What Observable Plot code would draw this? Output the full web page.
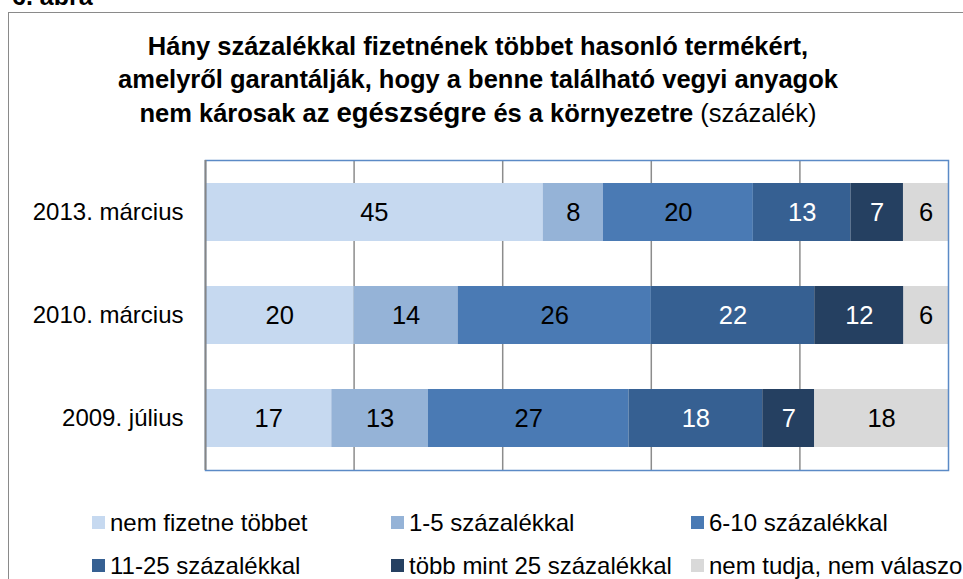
<!DOCTYPE html>
<html>
<head>
<meta charset="utf-8">
<script src="https://cdn.jsdelivr.net/npm/d3@7"></script>
<script src="https://cdn.jsdelivr.net/npm/@observablehq/plot@0.6"></script>
<style>
  html, body { margin: 0; padding: 0; background: #fff; }
  body { width: 963px; height: 579px; overflow: hidden; position: relative; font-family: Arial, "Liberation Sans", sans-serif; color: #000; }
  .abs { position: absolute; white-space: nowrap; }
  #fig { left: 12px; top: -16px; font-size: 25px; font-weight: bold; line-height: 25px; }
  #box { left: 8px; top: 12px; width: 1000px; height: 620px; border: 1.5px solid #8a8a8a; box-sizing: border-box; }
  #title { left: 0; top: 30px; width: 956px; text-align: center; font-size: 25.5px; font-weight: bold; line-height: 33px; }
  #title .big { font-size: 27.5px; }
  #title .norm { font-weight: normal; }
  #chart { left: 0; top: 150px; }
  .sw { position: absolute; width: 13px; height: 13px; }
  .lt { position: absolute; font-size: 24px; line-height: 24px; white-space: nowrap; }
</style>
</head>
<body>
<div id="box" class="abs"></div>
<div id="fig" class="abs">6. ábra</div>
<div id="title" class="abs">Hány százalékkal fizetnének többet hasonló termékért,<br>amelyről garantálják, hogy a benne található vegyi anyagok<br>nem károsak az <span class="big">egészségre</span> és a környezetre <span class="norm">(százalék)</span></div>
<div id="chart" class="abs"></div>
<div id="legend"></div>
<script>
const periods = ["2013. március", "2010. március", "2009. július"];
const categories = ["nem fizetne többet", "1-5 százalékkal", "6-10 százalékkal", "11-25 százalékkal", "több mint 25 százalékkal", "nem tudja, nem válaszol"];
const nemFizetne = [45, 20, 17];
const szazalek1_5 = [8, 14, 13];
const szazalek6_10 = [20, 26, 27];
const szazalek11_25 = [13, 22, 18];
const tobbMint25 = [7, 12, 7];
const nemTudja = [6, 6, 18];
const colors = ["#c6d9f0", "#95b3d7", "#4a7ab4", "#366092", "#254061", "#d9d9d9"];
const darkCategories = ["11-25 százalékkal", "több mint 25 százalékkal"];
const gridTicks = [0.2, 0.4, 0.6, 0.8];

const series = [nemFizetne, szazalek1_5, szazalek6_10, szazalek11_25, tobbMint25, nemTudja];
const data = [];
periods.forEach((p, i) => {
  categories.forEach((c, j) => {
    data.push({period: p, cat: c, value: series[j][i]});
  });
});

const stackOpts = {x: "value", y: "period", z: "cat", offset: "normalize"};
const isDark = d => darkCategories.includes(d.cat);

const chart = Plot.plot({
  width: 963,
  height: 330,
  marginLeft: 205,
  marginRight: 15,
  marginTop: 10,
  marginBottom: 10,
  style: {fontFamily: 'Arial, "Liberation Sans", sans-serif', fontSize: "24px", color: "#000", background: "transparent"},
  x: {domain: [0, 1], axis: null},
  y: {domain: periods, paddingInner: 0.44, paddingOuter: 0.22, label: null},
  color: {domain: categories, range: colors},
  marks: [
    Plot.ruleX(gridTicks, {stroke: "#8c8c8c", strokeWidth: 1.5}),
    Plot.barX(data, Plot.stackX({...stackOpts, fill: "cat"})),
    Plot.text(data, Plot.stackX({...stackOpts, text: d => isDark(d) ? "" : String(d.value), fill: "#000", fontSize: 25.5})),
    Plot.text(data, Plot.stackX({...stackOpts, text: d => isDark(d) ? String(d.value) : "", fill: "#fff", fontSize: 25.5})),
    Plot.frame({stroke: "#5b8ac6", strokeWidth: 1.5}),
    Plot.ruleX([0], {stroke: "#868686", strokeWidth: 2}),
    Plot.axisY({tickSize: 0, tickPadding: 22, fontSize: 24, label: null})
  ]
});
document.getElementById("chart").appendChild(chart);

// legend
const legend = document.getElementById("legend");
const colX = [92, 391, 691];
const rowSwY = [516, 559];
const rowTextTop = [511, 554];
categories.forEach((c, k) => {
  const col = k % 3, row = Math.floor(k / 3);
  const sw = document.createElement("div");
  sw.className = "sw";
  sw.style.left = colX[col] + "px";
  sw.style.top = rowSwY[row] + "px";
  sw.style.background = colors[k];
  legend.appendChild(sw);
  const t = document.createElement("div");
  t.className = "lt";
  t.style.left = (colX[col] + 18) + "px";
  t.style.top = rowTextTop[row] + "px";
  t.textContent = c;
  legend.appendChild(t);
});
</script>
</body>
</html>
